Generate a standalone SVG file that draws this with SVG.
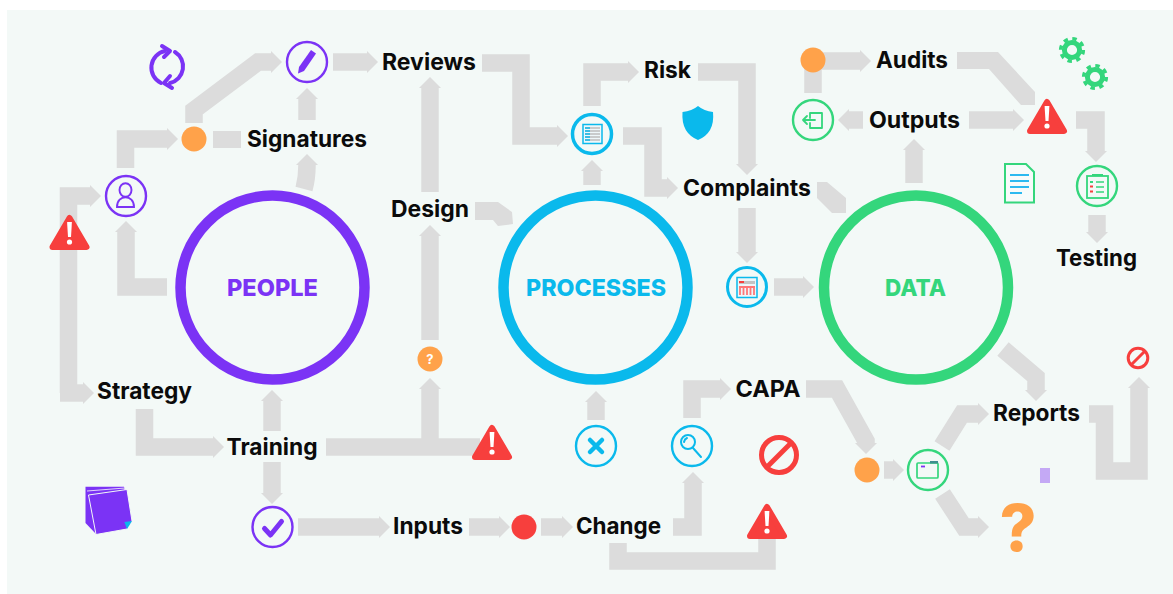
<svg xmlns="http://www.w3.org/2000/svg" xmlns:xlink="http://www.w3.org/1999/xlink" width="1173" height="594" viewBox="0 0 1173 594">
<style>
.c{fill:none;stroke:#dcdcdc;stroke-width:17.5;stroke-linejoin:miter}
.a{marker-end:url(#h)}
.f{fill:#dcdcdc;stroke:none}
.l{font-family:Inter,"Liberation Sans",sans-serif;font-weight:700;font-size:23px;fill:#0b0b0b;text-anchor:middle}
.t{font-family:Inter,"Liberation Sans",sans-serif;font-weight:800;font-size:23px;text-anchor:middle}
.r{fill:none;stroke-width:2.4}
.pu{stroke:#7b33f5}.bl{stroke:#0ab9ec}.gr{stroke:#34d67c}.re{stroke:#f73f3d}
.big{fill:none;stroke-width:10.5}
.ic{fill:none;stroke-linecap:round;stroke-linejoin:round}
</style>
<defs>
<marker id="h" markerUnits="userSpaceOnUse" markerWidth="12" markerHeight="22" refX="0" refY="11" orient="auto"><path d="M0 0L11 11L0 22Z" fill="#dcdcdc"/></marker>
<g id="warn"><path d="M0 4L17 33H-17Z" fill="#f73f3d" stroke="#f73f3d" stroke-width="6" stroke-linejoin="round"/><path d="M-2.4 8H2.4L1.5 23H-1.5Z" fill="#fff"/><circle cx="0" cy="28" r="2.6" fill="#fff"/></g>
<g id="gear"><circle r="7.6" fill="none" stroke="#34d67c" stroke-width="5"/><circle r="11.3" fill="none" stroke="#34d67c" stroke-width="3.6" stroke-dasharray="4.4 4.47"/></g>
</defs>
<rect x="7" y="10" width="1166" height="584" fill="#f3f9f7"/>
<g id="connectors">
<path class="c a" d="M194 123V110L258 62H271"/>
<path class="c a" d="M333 62H367"/>
<path class="f" d="M213 131H241V148H213Z"/>
<path class="c a" d="M307 120V99"/>
<path class="c a" d="M304 189Q307 178 307 165"/>
<path class="c a" d="M125.500 168V139H167"/>
<path class="c a" d="M68.500 393V196H90"/>
<path class="c a" d="M60 393H83"/>
<path class="c a" d="M167 287H126V232"/>
<path class="c a" d="M144.500 409V447H213"/>
<path class="c a" d="M272 431V401"/>
<path class="c a" d="M272 462V493"/>
<path class="c" d="M326 447H480"/>
<path class="c a" d="M430 447V389"/>
<path class="c a" d="M430 340V236"/>
<path class="c a" d="M430 192V88"/>
<path class="c a" d="M298 527H379"/>
<path class="c a" d="M469 527H499"/>
<path class="c a" d="M541 527H562"/>
<path class="c a" d="M673 527H693V483"/>
<path class="c" d="M618 543V561H767V535"/>
<path class="c a" d="M596 420V402"/>
<path class="c a" d="M692 418V389H720"/>
<path class="c a" d="M806 389H837L866 441V443"/>
<path class="c a" d="M884 470H893"/>
<path class="c a" d="M942 446L962 414H978"/>
<path class="c a" d="M942.500 494L964 527H978"/>
<path class="c a" d="M1003 349L1036 377V390"/>
<path class="c a" d="M1089 414H1104.500V471H1139V388"/>
<path class="c a" d="M482 63H521V136H557"/>
<path class="c a" d="M592 185V171"/>
<path class="c a" d="M592 106V72H628"/>
<path class="c a" d="M698 72H747V164"/>
<path class="c a" d="M623 136H653V188H667"/>
<path class="c a" d="M747 208V252"/>
<path class="c a" d="M774 287H803"/>
<path class="c a" d="M813 93V61H860"/>
<path class="c a" d="M863 120H849"/>
<path class="c a" d="M969 120H1013"/>
<path class="f" d="M957 52H998L1035 92V105H1021L989 69H957Z"/>
<path class="f" d="M817 182H827L846 198V213H832L817 198Z"/>
<path class="f" d="M475 202H498L512 212L513 224L498 226L493 220H475Z"/>
<path class="c a" d="M1076 120H1096V151"/>
<path class="c a" d="M1097 215V232"/>
<path class="c a" d="M914 183V150"/>
</g>
<g id="people"><circle class="big pu" cx="272.500" cy="287.500" r="92"/><text class="t" x="272.500" y="296" fill="#7b33f5" textLength="91" lengthAdjust="spacingAndGlyphs">PEOPLE</text></g>
<g id="processes"><circle class="big bl" cx="595.500" cy="287.500" r="92"/><text class="t" x="596" y="296" fill="#0ab9ec" textLength="140" lengthAdjust="spacingAndGlyphs">PROCESSES</text></g>
<g id="data"><circle class="big gr" cx="916" cy="287.500" r="92"/><text class="t" x="915.500" y="296" fill="#34d67c" textLength="61" lengthAdjust="spacingAndGlyphs">DATA</text></g>
<g id="label-signatures"><text class="l" x="307" y="147" textLength="120" lengthAdjust="spacingAndGlyphs">Signatures</text></g>
<g id="label-reviews"><text class="l" x="429" y="70" textLength="94" lengthAdjust="spacingAndGlyphs">Reviews</text></g>
<g id="label-risk"><text class="l" x="667.500" y="78" textLength="47" lengthAdjust="spacingAndGlyphs">Risk</text></g>
<g id="label-design"><text class="l" x="430" y="217" textLength="78" lengthAdjust="spacingAndGlyphs">Design</text></g>
<g id="label-complaints"><text class="l" x="747" y="196" textLength="128" lengthAdjust="spacingAndGlyphs">Complaints</text></g>
<g id="label-audits"><text class="l" x="912" y="68" textLength="72" lengthAdjust="spacingAndGlyphs">Audits</text></g>
<g id="label-outputs"><text class="l" x="914.500" y="128" textLength="91" lengthAdjust="spacingAndGlyphs">Outputs</text></g>
<g id="label-testing"><text class="l" x="1096.500" y="266" textLength="81" lengthAdjust="spacingAndGlyphs">Testing</text></g>
<g id="label-strategy"><text class="l" x="144.500" y="399" textLength="95" lengthAdjust="spacingAndGlyphs">Strategy</text></g>
<g id="label-training"><text class="l" x="272" y="455" textLength="91" lengthAdjust="spacingAndGlyphs">Training</text></g>
<g id="label-inputs"><text class="l" x="428" y="534" textLength="70" lengthAdjust="spacingAndGlyphs">Inputs</text></g>
<g id="label-change"><text class="l" x="618.500" y="534" textLength="85" lengthAdjust="spacingAndGlyphs">Change</text></g>
<g id="label-capa"><text class="l" x="768" y="397" textLength="65" lengthAdjust="spacingAndGlyphs">CAPA</text></g>
<g id="label-reports"><text class="l" x="1036.500" y="421" textLength="87" lengthAdjust="spacingAndGlyphs">Reports</text></g>
<g id="warn-left"><use xlink:href="#warn" href="#warn" x="69.500" y="214"/></g>
<g id="warn-training"><use xlink:href="#warn" href="#warn" x="492" y="424"/></g>
<g id="warn-change"><use xlink:href="#warn" href="#warn" x="767" y="503"/></g>
<g id="warn-outputs"><use xlink:href="#warn" href="#warn" x="1047" y="98"/></g>
<g id="sync" class="ic pu" stroke-width="4"><path d="M161 83A17 17 0 0 1 165 51"/><path d="M162 46L170 51L164 57"/><path d="M175 52A17 17 0 0 1 170 83"/><path d="M172 88L164 83L170 76"/></g>
<g id="pencil"><circle class="r pu" cx="307" cy="62" r="20"/><path d="M299 67L311 50L316 53.500L304 71L298 73.500Z" fill="#7b33f5"/></g>
<g id="person"><circle class="r pu" cx="126" cy="196" r="20"/><ellipse class="pu" fill="none" stroke-width="1.900" cx="125.500" cy="190" rx="6" ry="6.800"/><path class="pu" fill="none" stroke-width="1.900" d="M117 207C117 194 134 194 134 207Z"/></g>
<circle id="dot-signatures" cx="194" cy="139" r="12.500" fill="#ffa24a"/>
<g id="dot-question"><circle cx="430" cy="359" r="12.500" fill="#ffa24a"/><text x="430" y="364" font-family="Inter,'Liberation Sans',sans-serif" font-size="13" font-weight="700" fill="#fff" text-anchor="middle">?</text></g>
<g id="sticky"><path d="M85.500 486.700H124L126 500L96 534L85.500 523Z" fill="#7b33f5"/><path d="M87 491L125 488" stroke="#e2d2fb" stroke-width="1" fill="none"/><path d="M88.500 495L127 489.500L132 521L127 529L96 534.500Z" fill="#7b33f5" stroke="#f3f9f7" stroke-width="1"/><path d="M124.400 522L132 521L127 529Z" fill="#0ab9ec"/></g>
<g id="check"><circle class="r pu" cx="272.500" cy="527" r="20"/><path class="ic pu" stroke-width="5" d="M264.500 528.500L270.500 535L281.500 521.500"/></g>
<circle id="dot-red" cx="524" cy="527" r="12.500" fill="#f73f3d"/>
<g id="cancel"><circle class="r bl" cx="596" cy="446" r="20"/><path class="ic bl" stroke-width="4.500" d="M590 440L602 452M602 440L590 452"/></g>
<g id="search"><circle class="r bl" cx="692" cy="446" r="20"/><circle class="bl" fill="none" stroke-width="2" cx="688" cy="442" r="7"/><path class="ic bl" stroke-width="2" d="M693 448L701 457M684 442Q684.500 439 687 438"/></g>
<g id="ban-big"><circle class="re" fill="none" stroke-width="5" cx="779" cy="455" r="17.500"/><path class="re" stroke-width="5" d="M767 467L791 443"/></g>
<g id="shield"><path d="M698 106Q704 111 713 112Q715 133 698 140Q681 133 682.500 112Q692 111 698 106Z" fill="#0ab9ec"/></g>
<g id="doc-process"><circle class="bl" cx="592" cy="134" r="19.500" fill="none" stroke-width="3.500"/><rect class="bl" x="583" y="124.500" width="19" height="19" fill="#eef7fa" stroke-width="1.500"/><path d="M585 128H600M585 131H600M585 134H600M585 137H600M585 140H600" stroke="#bdbdbd" stroke-width="1.500"/><path d="M585 128H590M585 131H590M585 134H590M585 137H590M585 140H590" stroke="#0ab9ec" stroke-width="1.500"/></g>
<g id="calendar"><circle class="bl" cx="747" cy="287" r="19.500" fill="none" stroke-width="3"/><rect class="bl" x="737" y="277.500" width="20" height="20" fill="#eef7fa" stroke-width="1.500"/><path d="M739 281H755V284H739Z" fill="#c4c4c4"/><path d="M739 282H744" stroke="#f73f3d" stroke-width="2"/><path d="M740 286V295M743.500 286V295M747 286V295M750.500 286V295M754 286V295M739 287H755" stroke="#f77" stroke-width="1.800"/></g>
<circle id="dot-audits" cx="813" cy="60" r="12.500" fill="#ffa24a"/>
<g id="output"><circle class="r gr" cx="813" cy="120" r="20"/><path class="ic gr" stroke-width="1.800" d="M810 118V113H822V128H810V123M815 120H803M807 116L803 120L807 124"/></g>
<g id="gears"><use xlink:href="#gear" href="#gear" x="1072" y="50"/><use xlink:href="#gear" href="#gear" x="1095" y="77"/></g>
<g id="doc"><path d="M1005 164H1026L1034 172V202.500H1005Z" fill="#f7fbfa" stroke="#34d67c" stroke-width="2"/><path d="M1010 175H1029M1010 181H1029M1010 187H1029M1010 193H1022" stroke="#2cb9f0" stroke-width="2"/></g>
<g id="test"><circle class="r gr" cx="1097" cy="186" r="20"/><rect class="gr" fill="none" stroke-width="1.800" x="1087" y="176" width="21" height="22"/><path d="M1092 175H1103" stroke="#34d67c" stroke-width="2"/><path d="M1096 182H1104M1096 187H1104M1096 192H1104" stroke="#34d67c" stroke-width="1.600"/><path d="M1090 186.500H1093M1090 191.500H1093" stroke="#f73f3d" stroke-width="2.200"/><path d="M1090 182H1093" stroke="#34d67c" stroke-width="2"/></g>
<circle id="dot-capa" cx="867" cy="470" r="12.500" fill="#ffa24a"/>
<g id="folder"><circle class="r gr" cx="928" cy="470" r="20"/><rect class="gr" fill="none" stroke-width="1.700" x="917" y="463" width="21" height="15" rx="1"/><path d="M930 461H938V463.500H930Z" fill="#3f8f8f"/><path d="M921 466.500H925" stroke="#7b33f5" stroke-width="1.800"/></g>
<g id="question"><text x="1018" y="551" font-family="Inter,'Liberation Sans',sans-serif" font-weight="800" font-size="64" fill="#ffa24a" text-anchor="middle">?</text></g>
<rect id="mark" x="1040" y="468" width="10" height="15" fill="#c4a9f5"/>
<g id="ban-small"><circle class="re" fill="none" stroke-width="3" cx="1138" cy="358" r="9.800"/><path class="re" stroke-width="3" d="M1131 365L1145 351"/></g>
</svg>
